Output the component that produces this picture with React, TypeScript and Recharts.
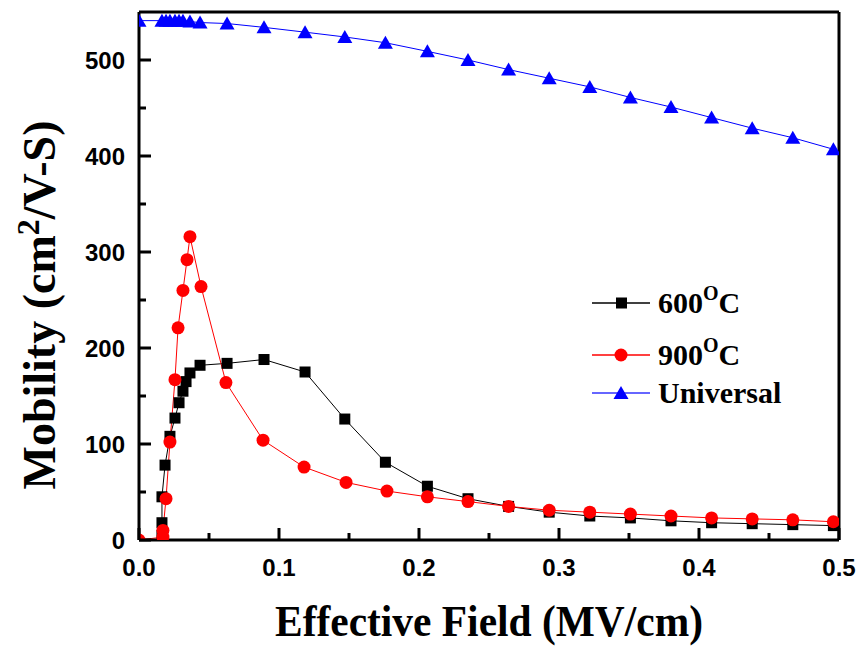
import { LineChart, Line, XAxis, YAxis, ReferenceLine } from "recharts";

// Effective field (MV/cm) and mobility (cm2/V-S)
const field600 = [0.0164, 0.0164, 0.0164, 0.0186, 0.0221, 0.0257, 0.0286, 0.0314, 0.0336, 0.0364, 0.0436, 0.0629, 0.0893, 0.1186, 0.147, 0.176, 0.206, 0.235, 0.264, 0.293, 0.322, 0.351, 0.38, 0.409, 0.438, 0.467, 0.496];
const mobility600 = [5, 18, 45, 78, 108, 127, 143, 155, 165, 174, 182, 184, 188, 175, 126, 81, 56, 43, 35, 29, 25, 23, 20, 18, 17, 16, 15];

const field900 = [0.0, 0.0171, 0.0171, 0.0193, 0.0221, 0.0257, 0.0279, 0.0314, 0.0343, 0.0364, 0.0443, 0.0621, 0.0886, 0.1179, 0.1479, 0.1771, 0.206, 0.235, 0.264, 0.293, 0.322, 0.351, 0.38, 0.409, 0.438, 0.467, 0.496];
const mobility900 = [0, 3, 10, 43, 102, 167, 221, 260, 292, 316, 264, 164, 104, 76, 60, 51, 45, 40, 35, 31, 29, 27, 25, 23, 22, 21, 19];

const fieldUniversal = [0.0, 0.0164, 0.0193, 0.0221, 0.0257, 0.0286, 0.0314, 0.0364, 0.0436, 0.0629, 0.0893, 0.1186, 0.147, 0.176, 0.206, 0.235, 0.264, 0.293, 0.322, 0.351, 0.38, 0.409, 0.438, 0.467, 0.496];
const mobilityUniversal = [541, 541, 541, 541, 541, 541, 541, 540, 539, 538, 534, 529, 524, 518, 509, 500, 490, 481, 472, 461, 451, 440, 429, 419, 407];

const xTicks = [0, 0.05, 0.1, 0.15, 0.2, 0.25, 0.3, 0.35, 0.4, 0.45, 0.5];
const yTicks = [0, 50, 100, 150, 200, 250, 300, 350, 400, 450, 500];

const toPoints = (xs: number[], ys: number[]) => xs.map((x, i) => ({ field: x, mobility: ys[i] }));

const serif = "'Liberation Serif', 'Times New Roman', serif";
const sans = "'Liberation Sans', Arial, sans-serif";

const XTick = (props: any) => {
  const { x, y, payload } = props;
  const major = Math.round(payload.value * 100) % 10 === 0;
  return (
    <g>
      <line x1={x} x2={x} y1={y} y2={y - (major ? 12 : 7)} stroke="#000" strokeWidth={3} />
      {major && (
        <text x={x} y={y + 36} textAnchor="middle" fontFamily={sans} fontWeight="bold" fontSize={24} fill="#000">
          {payload.value.toFixed(1)}
        </text>
      )}
    </g>
  );
};

const YTick = (props: any) => {
  const { x, y, payload } = props;
  const major = payload.value % 100 === 0;
  return (
    <g>
      <line x1={x} x2={x + (major ? 12 : 7)} y1={y} y2={y} stroke="#000" strokeWidth={3} />
      {major && (
        <text x={x - 14} y={y + 9} textAnchor="end" fontFamily={sans} fontWeight="bold" fontSize={24} fill="#000">
          {payload.value}
        </text>
      )}
    </g>
  );
};

const Square = (props: any) => {
  const { cx, cy, index } = props;
  return <rect key={`s${index}`} x={cx - 5.5} y={cy - 5.5} width={11} height={11} fill="#000" />;
};

const Circle = (props: any) => {
  const { cx, cy, index } = props;
  return <circle key={`c${index}`} cx={cx} cy={cy} r={6.5} fill="#ff0000" />;
};

const Triangle = (props: any) => {
  const { cx, cy, index } = props;
  return <polygon key={`t${index}`} points={`${cx - 7.5},${cy + 6} ${cx + 7.5},${cy + 6} ${cx},${cy - 7}`} fill="#0000ff" />;
};

const legendRows = [
  { label: "600", sup: "O", tail: "C", color: "#000", y: 303 },
  { label: "900", sup: "O", tail: "C", color: "#ff0000", y: 355 },
  { label: "Universal", sup: "", tail: "", color: "#3333ff", y: 393 },
];

export default function App() {
  return (
    <div style={{ position: "absolute", left: 0, top: 0, background: "#fff" }}>
      <LineChart width={863} height={647} margin={{ top: 12, right: 24, left: 0, bottom: 47 }}>
        <XAxis
          type="number"
          dataKey="field"
          domain={[0, 0.5]}
          ticks={xTicks}
          interval={0}
          height={60}
          tickSize={0}
          tickMargin={0}
          tickLine={false}
          tick={XTick}
          axisLine={{ stroke: "#000", strokeWidth: 3 }}
          allowDataOverflow
        />
        <YAxis
          type="number"
          domain={[0, 550]}
          ticks={yTicks}
          interval={0}
          width={139}
          tickSize={0}
          tickMargin={0}
          tickLine={false}
          tick={YTick}
          axisLine={{ stroke: "#000", strokeWidth: 3 }}
          allowDataOverflow
        />
        <ReferenceLine y={550} stroke="#000" strokeWidth={3} />
        <ReferenceLine x={0.5} stroke="#000" strokeWidth={3} />
        <Line
          data={toPoints(field600, mobility600)}
          dataKey="mobility"
          type="linear"
          stroke="#000"
          strokeWidth={1}
          dot={Square}
          activeDot={false}
          isAnimationActive={false}
        />
        <Line
          data={toPoints(field900, mobility900)}
          dataKey="mobility"
          type="linear"
          stroke="#ff0000"
          strokeWidth={1}
          dot={Circle}
          activeDot={false}
          isAnimationActive={false}
        />
        <Line
          data={toPoints(fieldUniversal, mobilityUniversal)}
          dataKey="mobility"
          type="linear"
          stroke="#0000ff"
          strokeWidth={1}
          dot={Triangle}
          activeDot={false}
          isAnimationActive={false}
        />
        <g>
          {legendRows.map((r, i) => (
            <g key={r.label}>
              <line x1={592} x2={650} y1={r.y} y2={r.y} stroke={r.color} strokeWidth={1.5} />
              {i === 0 && <rect x={616} y={r.y - 5.5} width={11} height={11} fill="#000" />}
              {i === 1 && <circle cx={621} cy={r.y} r={6.5} fill="#ff0000" />}
              {i === 2 && (
                <polygon points={`${613.5},${r.y + 6} ${628.5},${r.y + 6} ${621},${r.y - 7}`} fill="#0000ff" />
              )}
              <text x={658} y={r.y + 10} fontFamily={serif} fontWeight="bold" fontSize={30} fill="#000">
                {r.label}
                {r.sup && (
                  <tspan fontSize={20} dy={-13}>
                    {r.sup}
                  </tspan>
                )}
                {r.tail && <tspan dy={13}>{r.tail}</tspan>}
              </text>
            </g>
          ))}
        </g>
        <text
          x={489}
          y={636}
          textAnchor="middle"
          fontFamily={serif}
          fontWeight="bold"
          fontSize={44}
          textLength={428}
          lengthAdjust="spacingAndGlyphs"
          fill="#000"
        >
          Effective Field (MV/cm)
        </text>
        <text
          x={55}
          y={305}
          textAnchor="middle"
          transform="rotate(-90 55 305)"
          fontFamily={serif}
          fontWeight="bold"
          fontSize={46}
          fill="#000"
        >
          Mobility (cm
          <tspan fontSize={32} dy={-16}>
            2
          </tspan>
          <tspan dy={16}>/V-S)</tspan>
        </text>
      </LineChart>
    </div>
  );
}
